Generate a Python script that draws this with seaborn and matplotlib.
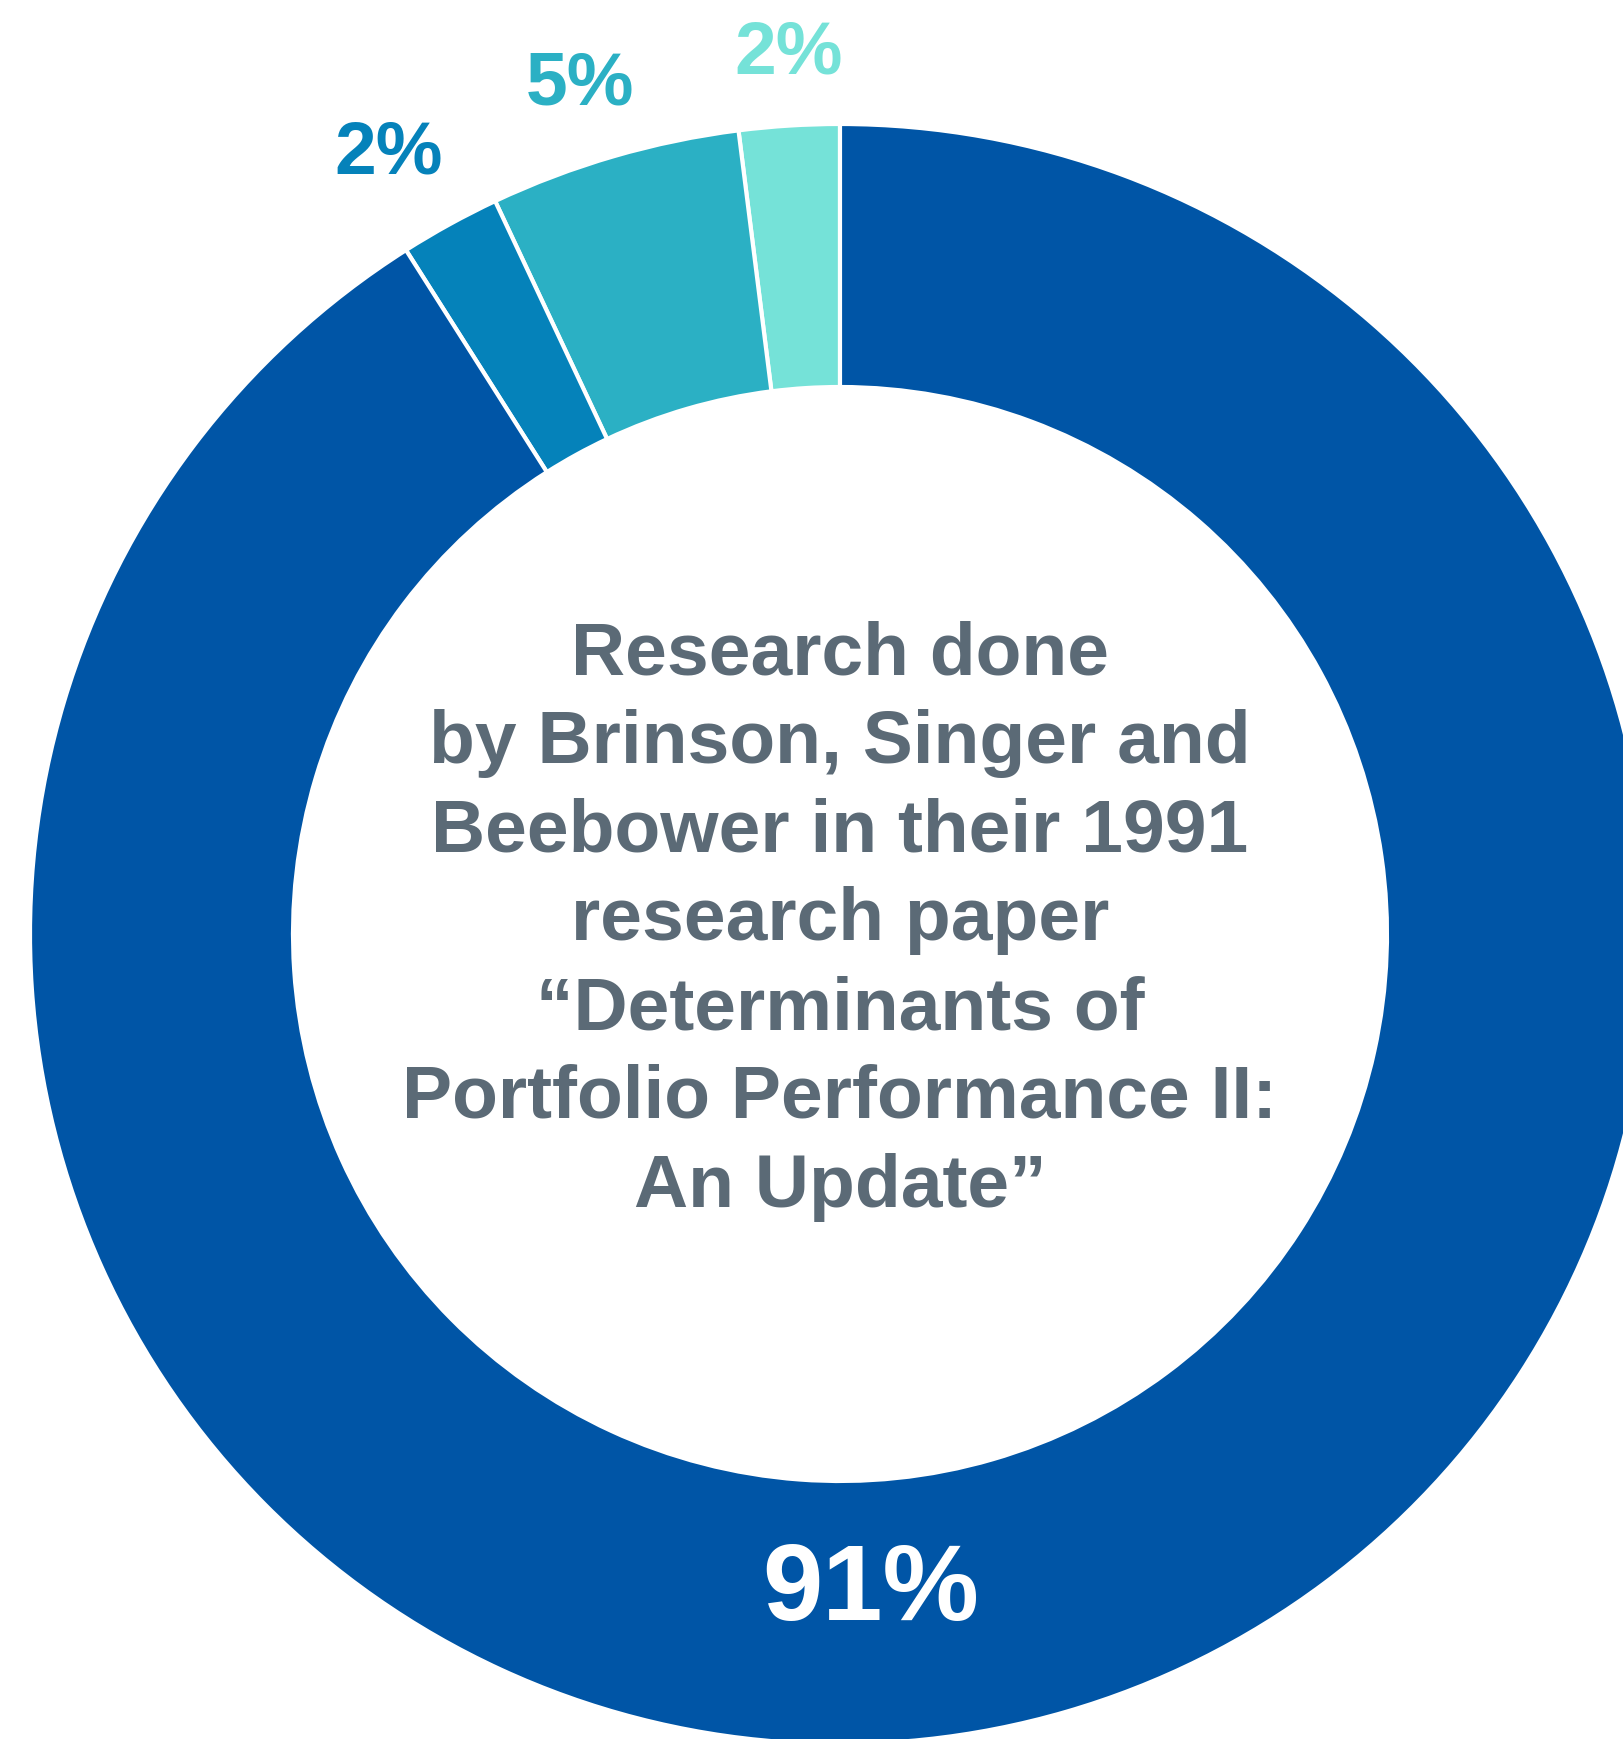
import numpy as np
import matplotlib
matplotlib.use("Agg")
import matplotlib.pyplot as plt
import seaborn as sns

# ---- data ----
categories = ["Other factors", "Security selection", "Market timing", "Asset allocation"]
shares = [2, 5, 2, 91]
pct_labels = ["2%", "5%", "2%", "91%"]
colors = ["#75E2D8", "#2BB0C4", "#0582BA", "#0055A6"]
center_text = ("Research done\nby Brinson, Singer and\nBeebower in their 1991\n"
               "research paper\n\u201cDeterminants of\nPortfolio Performance II:\nAn Update\u201d")

sns.set_theme(style="white")
plt.rcParams['font.family'] = ['Liberation Sans', 'DejaVu Sans']

W, H = 1623, 1739
fig = plt.figure(figsize=(W / 100, H / 100), dpi=100)
ax = fig.add_axes([0, 0, 1, 1])

cx, cy, R = 840, 934, 810
inner = 547 / 810

wedges, _ = ax.pie(shares, colors=colors, startangle=90, counterclock=True,
                   radius=1.0, wedgeprops=dict(width=1 - inner, edgecolor="white", linewidth=3))

ax.set_xlim(-cx / R, (W - cx) / R)
ax.set_ylim(-(H - cy) / R, cy / R)
ax.set_aspect('auto')
ax.axis('off')

# outside labels for small slices
label_r = [1.097, 1.105, 1.121]
label_dang = [-0.3, 0.7, 1.0]
for w, lab, col, r, da in zip(wedges[:3], pct_labels[:3], colors[:3], label_r, label_dang):
    ang = np.deg2rad((w.theta1 + w.theta2) / 2 + da)
    ax.text(r * np.cos(ang), r * np.sin(ang), lab, color=col, fontsize=54,
            fontweight='bold', ha='center', va='center_baseline')

# large slice label
ang = np.deg2rad(-87.3)
ax.text(0.80 * np.cos(ang), 0.80 * np.sin(ang), pct_labels[3], color="white",
        fontsize=78, fontweight='bold', ha='center', va='center_baseline')

ax.text(0, (934 - 921) / R, center_text, color="#5B6A76", fontsize=54,
        fontweight='bold', ha='center', va='center', linespacing=1.365)

fig.savefig("out.png", dpi=100, facecolor="white")
